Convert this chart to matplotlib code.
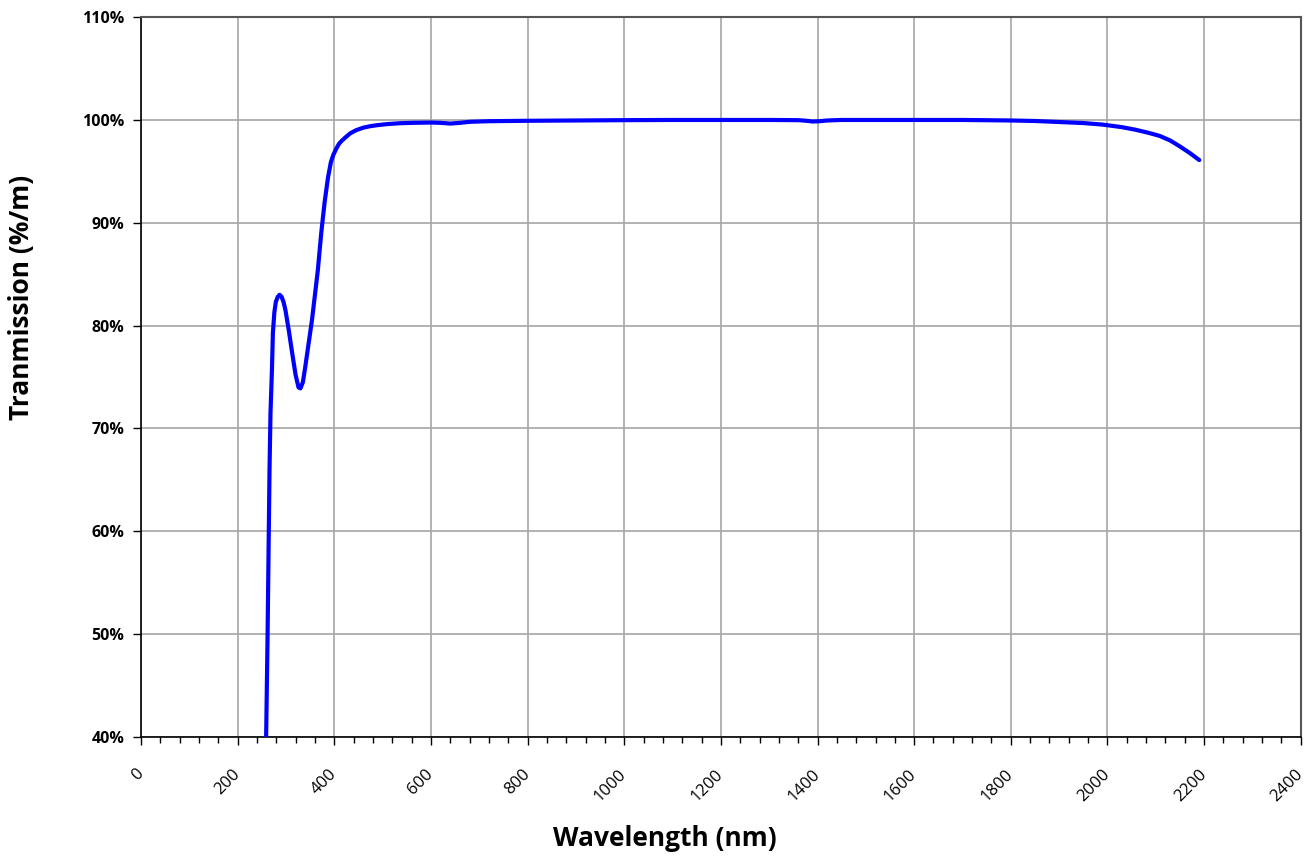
import matplotlib
matplotlib.use("Agg")
import matplotlib.pyplot as plt
from matplotlib.ticker import MultipleLocator, FuncFormatter

# wavelength (nm) and transmission (%/m)
wavelength = [259, 262, 264, 266, 268, 271, 273, 276, 279, 283, 287, 291, 295,
              299, 306, 313, 320, 326, 330, 335, 340, 347, 354, 360, 366, 373,
              380, 387, 393, 398, 404, 410, 416, 423, 433, 445, 460, 475, 490,
              510, 535, 560, 600, 620, 640, 660, 680, 720, 800, 900, 1000,
              1100, 1200, 1300, 1360, 1375, 1390, 1405, 1420, 1450, 1500,
              1600, 1700, 1800, 1850, 1900, 1950, 1990, 2030, 2058, 2085,
              2108, 2130, 2149, 2170, 2190]
transmission = [40.0, 50.0, 58.0, 66.0, 71.5, 75.7, 79.3, 81.3, 82.3, 82.8,
                83.0, 82.8, 82.3, 81.5, 79.5, 77.3, 75.2, 74.0, 73.9, 74.5,
                76.0, 78.3, 80.6, 83.0, 85.4, 89.0, 92.0, 94.4, 95.9, 96.6,
                97.2, 97.7, 98.0, 98.3, 98.7, 99.0, 99.25, 99.4, 99.5, 99.6,
                99.68, 99.72, 99.75, 99.72, 99.65, 99.72, 99.82, 99.88, 99.92,
                99.95, 99.98, 100.0, 100.0, 100.0, 99.98, 99.93, 99.85, 99.88,
                99.95, 100.0, 100.0, 100.0, 100.0, 99.95, 99.9, 99.8, 99.7,
                99.55, 99.3, 99.05, 98.75, 98.45, 98.0, 97.45, 96.8, 96.1]

plt.rcParams['font.family'] = ['Open Sans', 'DejaVu Sans']

W, H = 1309, 856
fig = plt.figure(figsize=(W / 100, H / 100), dpi=100)
ax = fig.add_axes([0.1077, 0.139, 0.886, 0.841])

ax.plot(wavelength, transmission, color='#0000ff', linewidth=3.0,
        solid_capstyle='round', solid_joinstyle='round', zorder=3)

ax.set_xlim(0, 2400)
ax.set_ylim(40, 110)
ax.xaxis.set_major_locator(MultipleLocator(200))
ax.xaxis.set_minor_locator(MultipleLocator(40))
ax.yaxis.set_major_locator(MultipleLocator(10))
ax.yaxis.set_major_formatter(FuncFormatter(lambda v, p: '%d%%' % v))

ax.grid(True, which='major', color='#a6a6a6', linewidth=1.2, zorder=0)
ax.set_axisbelow(True)

for side in ['left', 'bottom']:
    ax.spines[side].set_color('black')
    ax.spines[side].set_linewidth(1.2)
for side in ['top', 'right']:
    ax.spines[side].set_color('#555555')
    ax.spines[side].set_linewidth(1.5)

ax.tick_params(axis='x', which='major', direction='out', length=6, width=1,
               labelsize=12, pad=19)
ax.tick_params(axis='x', which='minor', direction='out', length=4, width=1)
ax.tick_params(axis='y', direction='out', length=6, width=1, labelsize=11.5,
               pad=6)
for lbl in ax.get_xticklabels():
    lbl.set_rotation(45)
    lbl.set_ha('right')
    lbl.set_va('center')
    lbl.set_rotation_mode('anchor')
for lbl in ax.get_yticklabels():
    lbl.set_fontweight('bold')

# axis titles sit off-centre in the original, so place them in figure pixels
fig.text(665 / W, 1 - 838 / H, 'Wavelength (nm)', fontsize=19,
         fontweight='bold', ha='center', va='center')
fig.text(22 / W, 1 - 297 / H, 'Tranmission (%/m)', fontsize=19,
         fontweight='bold', ha='center', va='center', rotation=90)

fig.savefig('out.png', dpi=100)
